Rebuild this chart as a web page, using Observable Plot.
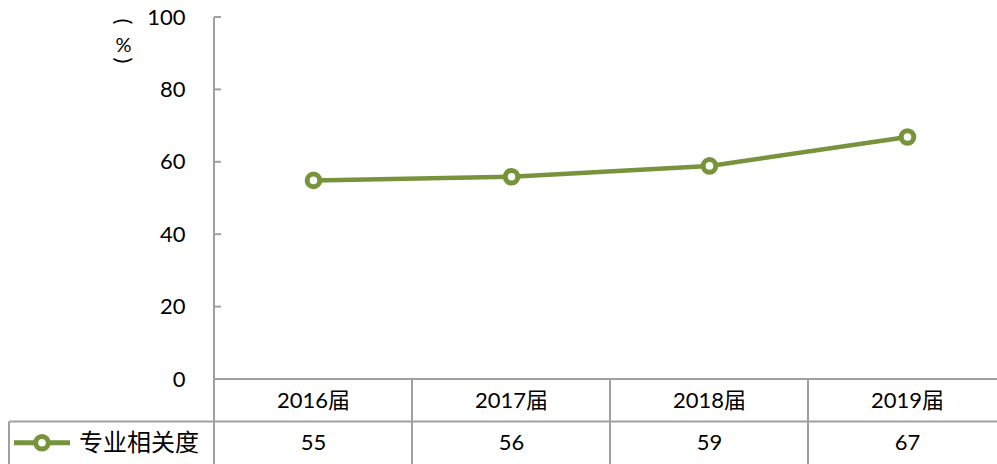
<!DOCTYPE html>
<html>
<head>
<meta charset="utf-8">
<script src="https://cdn.jsdelivr.net/npm/d3@7"></script>
<script src="https://cdn.jsdelivr.net/npm/@observablehq/plot@0.6"></script>
<style>
  html, body { margin: 0; padding: 0; background: #fff; }
</style>
</head>
<body>
<div id="chart"></div>
<script>
const years = ["2016届", "2017届", "2018届", "2019届"];
const values = [55, 56, 59, 67];
const seriesName = "专业相关度";
const yTicks = [0, 20, 40, 60, 80, 100];
const unitLabel = ["(", "%", ")"];

const data = years.map((year, i) => ({year, value: values[i]}));

const green = "#77933C";
const gridColor = "#A0A0A0";
const font = "Lato, 'Noto Sans CJK SC', sans-serif";

function tableMark(index, scales, vals, dims) {
  const {x, y} = scales;
  const W = dims.width, H = dims.height;
  const x0 = dims.marginLeft;
  const y0 = y(0);
  const rowMid = y0 + (H - y0) / 2;
  const legendLeft = 9;
  const g = d3.create("svg:g");
  const lines = g.append("g").attr("stroke", gridColor).attr("stroke-width", 2).attr("fill", "none");
  // vertical value axis (extends through the table)
  lines.append("line").attr("x1", x0).attr("x2", x0).attr("y1", y(100)).attr("y2", H);
  // inward ticks
  for (const t of yTicks) {
    lines.append("line").attr("x1", x0).attr("x2", x0 + 7).attr("y1", y(t)).attr("y2", y(t));
  }
  // table horizontals
  lines.append("line").attr("x1", x0).attr("x2", W).attr("y1", y0).attr("y2", y0);
  lines.append("line").attr("x1", legendLeft).attr("x2", W).attr("y1", rowMid).attr("y2", rowMid);
  // legend cell left border
  lines.append("line").attr("x1", legendLeft).attr("x2", legendLeft).attr("y1", rowMid).attr("y2", H);
  // column separators
  for (const d of years.slice(1)) {
    const xv = x(d);
    lines.append("line").attr("x1", xv).attr("x2", xv).attr("y1", y0).attr("y2", H);
  }
  // legend key
  const ly = rowMid + (H - rowMid) / 2;
  const key = g.append("g");
  key.append("line").attr("x1", 14).attr("x2", 70).attr("y1", ly).attr("y2", ly)
    .attr("stroke", green).attr("stroke-width", 5);
  key.append("circle").attr("cx", 42).attr("cy", ly).attr("r", 6.3)
    .attr("fill", "#fff").attr("stroke", green).attr("stroke-width", 5);
  key.append("text").attr("x", 79).attr("y", ly).attr("dy", "0.35em")
    .attr("text-anchor", "start")
    .attr("font-family", font).attr("font-size", 24).attr("fill", "#000")
    .text(seriesName);
  return g.node();
}

const chart = Plot.plot({
  width: 997,
  height: 464,
  marginTop: 17,
  marginBottom: 85,
  marginLeft: 214,
  marginRight: 0,
  style: {fontFamily: font, fontSize: "22px", color: "#000", background: "#fff"},
  x: {type: "band", domain: years, range: [214, 1006], padding: 0, axis: null},
  y: {domain: [0, 100]},
  marks: [
    tableMark,
    Plot.axisY({ticks: yTicks, tickSize: 0, tickPadding: 29, label: null, fontSize: 22}),
    Plot.text([unitLabel[0]], {frameAnchor: "top-left", dx: -91, dy: 4, rotate: 90, textAnchor: "middle", lineAnchor: "middle", fontSize: 22, text: d => d}),
    Plot.text([unitLabel[1]], {frameAnchor: "top-left", dx: -91, dy: 28, textAnchor: "middle", lineAnchor: "middle", fontSize: 20, text: d => d}),
    Plot.text([unitLabel[2]], {frameAnchor: "top-left", dx: -91, dy: 43, rotate: 90, textAnchor: "middle", lineAnchor: "middle", fontSize: 22, text: d => d}),
    Plot.line(data, {x: "year", y: "value", stroke: green, strokeWidth: 4.5}),
    Plot.dot(data, {x: "year", y: "value", r: 6.3, fill: "#fff", stroke: green, strokeWidth: 5}),
    Plot.text(data, {x: "year", text: "year", frameAnchor: "bottom", lineAnchor: "middle", dy: 21, fontSize: 22}),
    Plot.text(data, {x: "year", text: d => String(d.value), frameAnchor: "bottom", lineAnchor: "middle", dy: 63, fontSize: 22})
  ]
});
document.getElementById("chart").appendChild(chart);
</script>
</body>
</html>
